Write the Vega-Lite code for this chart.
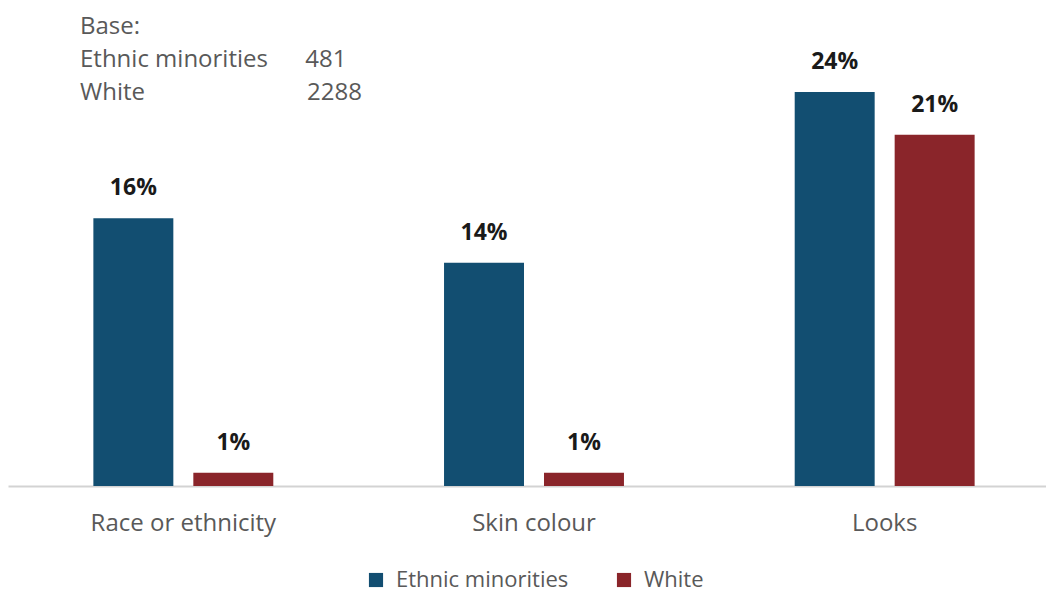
{
  "$schema": "https://vega.github.io/schema/vega-lite/v6.json",
  "width": 1046,
  "height": 486,
  "autosize": "none",
  "padding": {"top": 0, "left": 0, "right": 0, "bottom": 110},
  "background": "white",
  "config": {"view": {"stroke": null}, "font": "Open Sans"},
  "title": {
    "text": ["Base:", "Ethnic minorities\u00a0\u00a0\u00a0\u00a0\u00a0\u00a0481", "White\u00a0\u00a0\u00a0\u00a0\u00a0\u00a0\u00a0\u00a0\u00a0\u00a0\u00a0\u00a0\u00a0\u00a0\u00a0\u00a0\u00a0\u00a0\u00a0\u00a0\u00a0\u00a0\u00a0\u00a0\u00a0\u00a02288"],
    "orient": "top",
    "anchor": "start",
    "frame": "group",
    "dx": 80,
    "offset": -124,
    "baseline": "alphabetic",
    "lineHeight": 33,
    "font": "Open Sans",
    "fontSize": 24,
    "fontWeight": "normal",
    "color": "#595959"
  },
  "data": {
    "values": [
      {"category": "Race or ethnicity", "group": "Ethnic minorities", "value": 16.3, "label": "16%"},
      {"category": "Race or ethnicity", "group": "White", "value": 0.8, "label": "1%"},
      {"category": "Skin colour", "group": "Ethnic minorities", "value": 13.6, "label": "14%"},
      {"category": "Skin colour", "group": "White", "value": 0.8, "label": "1%"},
      {"category": "Looks", "group": "Ethnic minorities", "value": 24.0, "label": "24%"},
      {"category": "Looks", "group": "White", "value": 21.4, "label": "21%"}
    ]
  },
  "encoding": {
    "x": {
      "field": "category",
      "type": "nominal",
      "sort": ["Race or ethnicity", "Skin colour", "Looks"],
      "scale": {"range": [8, 1060], "paddingInner": 0, "paddingOuter": 0},
      "axis": {
        "title": null,
        "labelAngle": 0,
        "ticks": false,
        "labelFontSize": 24,
        "labelColor": "#595959",
        "labelPadding": 25,
        "labelLimit": 400,
        "domainColor": "#d3d3d3",
        "domainWidth": 2,
        "grid": false
      }
    },
    "xOffset": {
      "field": "group",
      "type": "nominal",
      "sort": ["Ethnic minorities", "White"],
      "scale": {"paddingInner": 0.2, "paddingOuter": 0.854}
    },
    "y": {
      "field": "value",
      "type": "quantitative",
      "scale": {"domain": [0, 29.6], "nice": false, "zero": true},
      "axis": null
    }
  },
  "layer": [
    {
      "mark": {"type": "bar"},
      "encoding": {
        "color": {
          "field": "group",
          "type": "nominal",
          "sort": ["Ethnic minorities", "White"],
          "scale": {"domain": ["Ethnic minorities", "White"], "range": ["#124E71", "#8A252A"]},
          "legend": {
            "orient": "none",
            "legendX": 365,
            "legendY": 569,
            "direction": "horizontal",
            "title": null,
            "symbolType": "square",
            "symbolSize": 200,
            "symbolStrokeWidth": 0,
            "labelFontSize": 22,
            "labelLimit": 400,
            "labelColor": "#595959",
            "labelFont": "Open Sans",
            "columnPadding": 44,
            "labelOffset": 9
          }
        }
      }
    },
    {
      "mark": {"type": "text", "baseline": "alphabetic", "dy": -23, "fontSize": 23, "fontWeight": "bold", "color": "#1a1a1a", "font": "Open Sans"},
      "encoding": {"text": {"field": "label"}}
    }
  ]
}
